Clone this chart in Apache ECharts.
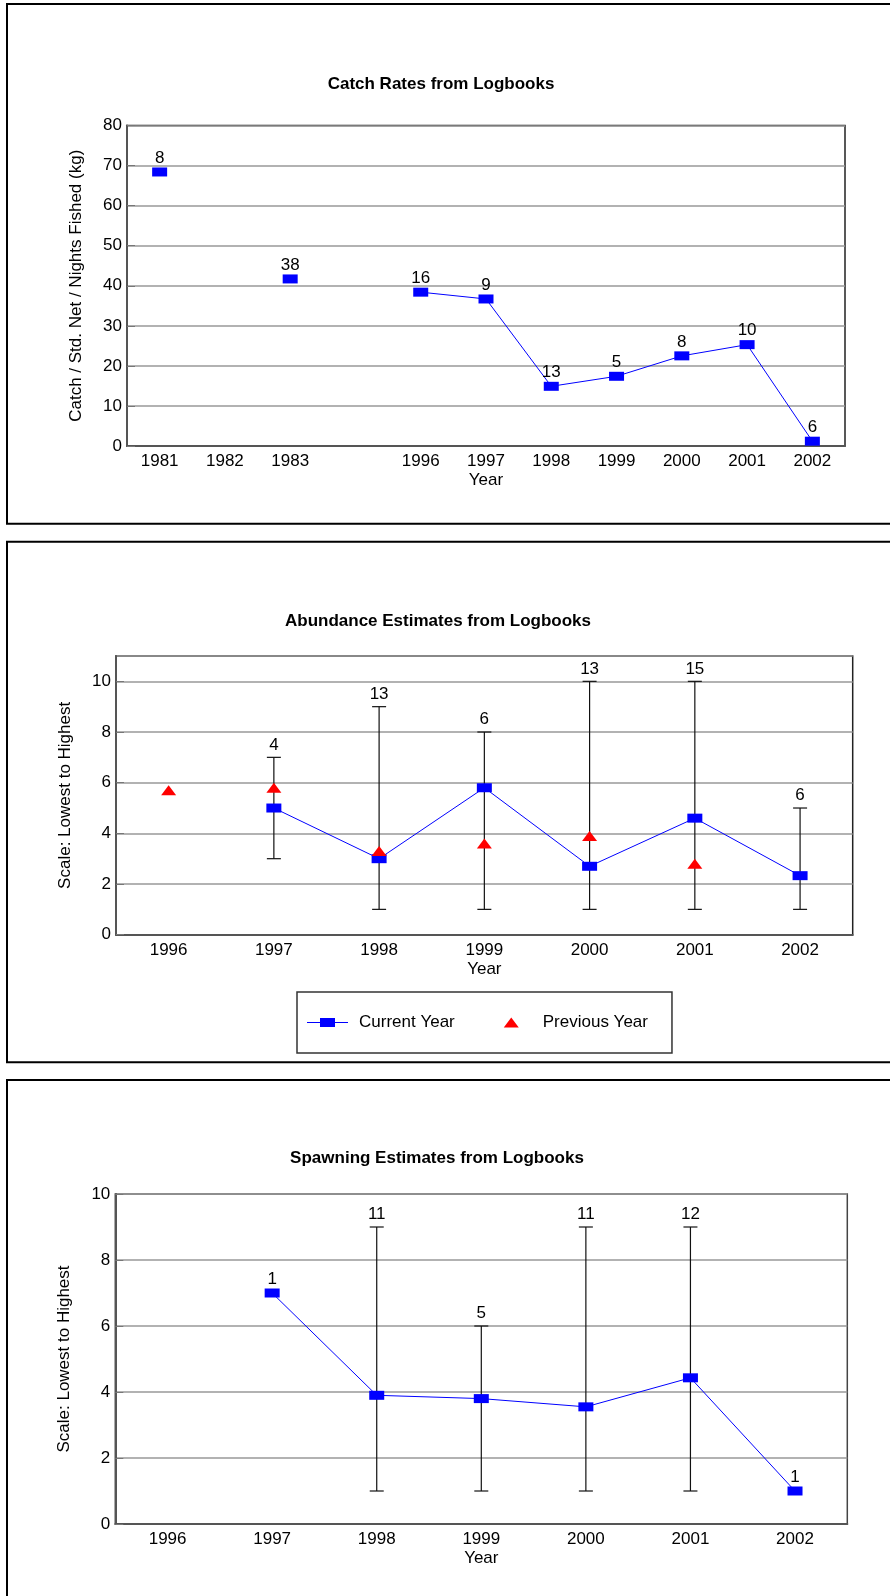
<!DOCTYPE html>
<html>
<head>
<meta charset="utf-8">
<title>Logbook Estimates</title>
<script src="https://cdn.jsdelivr.net/npm/echarts@6/dist/echarts.min.js"></script>
<style>
  html, body { margin: 0; padding: 0; background: #fff; overflow: hidden; }
  #chart { width: 890px; height: 1596px; }
</style>
</head>
<body>
<div id="chart"></div>
<script>
// Catch rates (top panel)
const catchYears = ['1981', '1982', '1983', '', '1996', '1997', '1998', '1999', '2000', '2001', '2002']
const catchRate = [68.4, null, 41.7, null, 38.4, 36.7, 14.9, 17.4, 22.5, 25.3, 1.2]
const catchN = [8, null, 38, null, 16, 9, 13, 5, 8, 10, 6]

// Abundance + spawning share the same years
const estYears = ['1996', '1997', '1998', '1999', '2000', '2001', '2002']

const abundCurrent = [null, 5.0, 3.0, 5.8, 2.7, 4.6, 2.33]
const abundPrevious = [5.7, 5.8, 3.3, 3.6, 3.9, 2.8, null]
const abundLow = [null, 3, 1, 1, 1, 1, 1]
const abundHigh = [null, 7, 9, 8, 10, 10, 5]
const abundN = [null, 4, 13, 6, 13, 15, 6]

const spawnCurrent = [null, 7.0, 3.9, 3.8, 3.55, 4.43, 1.0]
const spawnLow = [null, null, 1, 1, 1, 1, null]
const spawnHigh = [null, null, 9, 6, 9, 9, null]
const spawnN = [null, 1, 11, 5, 11, 12, 1]

const FONT = 'Liberation Sans'
const BLUE = '#0000ff'

// legend icons: thin line through a flat box, and a flat triangle
const lineBoxIcon = 'path://M0,4L13,4L13,0L28,0L28,4L41,4L41,5L28,5L28,9L13,9L13,5L0,5Z'
const triangleIcon = 'path://M0,10L7.5,0L15,10Z'

const chart = echarts.init(document.getElementById('chart'))

function xAxisFor(gridIndex, cats, centerTicks) {
  return {
    type: 'category',
    gridIndex,
    data: cats,
    name: 'Year',
    nameLocation: 'middle',
    nameGap: 26,
    nameTextStyle: { fontSize: 17, color: '#000' },
    axisLine: { lineStyle: { color: '#555', width: 2 } },
    axisTick: { inside: true, length: 5, alignWithLabel: centerTicks, lineStyle: { color: '#999' } },
    axisLabel: { interval: 0, fontSize: 17, color: '#000', margin: 7 },
    splitLine: { show: false }
  }
}

function yAxisFor(gridIndex, max, interval, name) {
  return {
    type: 'value',
    gridIndex,
    min: 0,
    max,
    interval,
    name,
    nameLocation: 'middle',
    nameGap: 42,
    nameTextStyle: { fontSize: 17, color: '#000' },
    axisLine: { show: true, lineStyle: { color: '#555', width: 2 } },
    axisTick: { show: true, inside: true, length: 8, lineStyle: { color: '#777' } },
    axisLabel: { fontSize: 17, color: '#000', margin: 5, showMaxLabel: max % interval === 0 },
    splitLine: { lineStyle: { color: '#999', width: 1.5 } }
  }
}

// vertical range bar with caps, count written above the top cap
function errorBars(name, axisIndex, low, high, counts) {
  const data = []
  low.forEach((lo, i) => {
    if (lo != null) data.push([i, lo, high[i], counts[i]])
  })
  return {
    type: 'custom',
    name,
    xAxisIndex: axisIndex,
    yAxisIndex: axisIndex,
    z: 1,
    encode: { x: 0, y: [1, 2] },
    data,
    renderItem(params, api) {
      const top = api.coord([api.value(0), api.value(2)])
      const bot = api.coord([api.value(0), api.value(1)])
      const cap = 7
      const style = { stroke: '#111', lineWidth: 1.2 }
      return {
        type: 'group',
        children: [
          { type: 'line', shape: { x1: top[0], y1: top[1], x2: bot[0], y2: bot[1] }, style },
          { type: 'line', shape: { x1: top[0] - cap, y1: top[1], x2: top[0] + cap, y2: top[1] }, style },
          { type: 'line', shape: { x1: bot[0] - cap, y1: bot[1], x2: bot[0] + cap, y2: bot[1] }, style },
          {
            type: 'text',
            x: top[0],
            y: top[1] - 4,
            style: {
              text: String(api.value(3)),
              align: 'center',
              verticalAlign: 'bottom',
              font: '17px "' + FONT + '"',
              fill: '#000'
            }
          }
        ]
      }
    }
  }
}

function blueLine(name, axisIndex, values, labelFn) {
  return {
    type: 'line',
    name,
    xAxisIndex: axisIndex,
    yAxisIndex: axisIndex,
    z: 3,
    data: values,
    connectNulls: false,
    symbol: 'rect',
    symbolSize: [15, 9],
    showAllSymbol: true,
    lineStyle: { color: BLUE, width: 1 },
    itemStyle: { color: BLUE },
    label: {
      show: true,
      position: 'top',
      distance: 1,
      fontSize: 17,
      color: '#000',
      formatter: p => labelFn(p.dataIndex)
    }
  }
}

function panel(y, h) {
  return {
    type: 'rect',
    shape: { x: 7, y, width: 1000, height: h },
    style: { fill: 'none', stroke: '#000', lineWidth: 2 },
    silent: true
  }
}

const titleStyle = { fontSize: 17, fontWeight: 'bold', color: '#000' }

const option = {
  animation: false,
  textStyle: { fontFamily: FONT },
  graphic: [panel(4, 519.7), panel(541.7, 520.6), panel(1080, 600)],
  title: [
    { text: 'Catch Rates from Logbooks', left: 441, top: 76, textAlign: 'center', padding: 0, textStyle: titleStyle },
    { text: 'Abundance Estimates from Logbooks', left: 438, top: 612.5, textAlign: 'center', padding: 0, textStyle: titleStyle },
    { text: 'Spawning Estimates from Logbooks', left: 437, top: 1150, textAlign: 'center', padding: 0, textStyle: titleStyle }
  ],
  legend: {
    data: [
      { name: 'Current Year', icon: lineBoxIcon },
      { name: 'Previous Year', icon: triangleIcon }
    ],
    left: 297,
    top: 992,
    orient: 'horizontal',
    symbolKeepAspect: true,
    borderColor: '#333',
    borderWidth: 1.5,
    padding: [22, 24, 22, 10],
    itemWidth: 41,
    itemHeight: 10,
    itemGap: 49,
    textStyle: { fontSize: 17, color: '#000', padding: [0, 0, 0, 6] }
  },
  grid: [
    { left: 127, top: 125.5, width: 718, height: 320.5, show: true, borderColor: '#222', borderWidth: 1.5 },
    { left: 116, top: 656, width: 736.7, height: 278.7, show: true, borderColor: '#222', borderWidth: 1.5 },
    { left: 115.3, top: 1194, width: 732, height: 330, show: true, borderColor: '#444', borderWidth: 1.5 }
  ],
  xAxis: [
    xAxisFor(0, catchYears, true),
    xAxisFor(1, estYears, false),
    xAxisFor(2, estYears, false)
  ],
  yAxis: [
    yAxisFor(0, 80, 10, 'Catch / Std. Net / Nights Fished (kg)'),
    yAxisFor(1, 11, 2, 'Scale: Lowest to Highest'),
    yAxisFor(2, 10, 2, 'Scale: Lowest to Highest')
  ],
  series: [
    blueLine('Catch Rate', 0, catchRate, i => catchN[i] ?? ''),

    errorBars('Abundance Range', 1, abundLow, abundHigh, abundN),
    blueLine('Current Year', 1, abundCurrent, i => (abundHigh[i] == null && abundN[i] != null ? abundN[i] : '')),
    {
      type: 'scatter',
      name: 'Previous Year',
      xAxisIndex: 1,
      yAxisIndex: 1,
      z: 4,
      data: abundPrevious,
      symbol: 'triangle',
      symbolSize: [15, 10],
      itemStyle: { color: '#ff0000', opacity: 1 }
    },

    errorBars('Spawning Range', 2, spawnLow, spawnHigh, spawnN),
    blueLine('Spawning', 2, spawnCurrent, i => (spawnHigh[i] == null && spawnN[i] != null ? spawnN[i] : ''))
  ]
}

chart.setOption(option)
</script>
</body>
</html>
